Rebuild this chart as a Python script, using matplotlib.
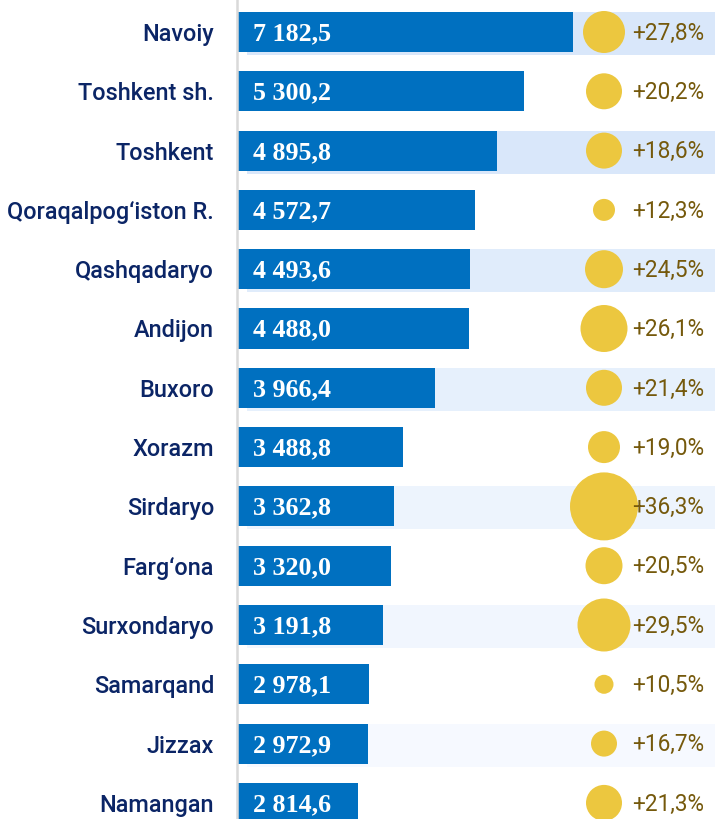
import matplotlib
matplotlib.use("Agg")
import matplotlib.pyplot as plt
import numpy as np

regions = ["Navoiy", "Toshkent sh.", "Toshkent", "Qoraqalpog‘iston R.", "Qashqadaryo",
           "Andijon", "Buxoro", "Xorazm", "Sirdaryo", "Farg‘ona", "Surxondaryo",
           "Samarqand", "Jizzax", "Namangan"]
values = [7182.5, 5300.2, 4895.8, 4572.7, 4493.6, 4488.0, 3966.4, 3488.8, 3362.8,
          3320.0, 3191.8, 2978.1, 2972.9, 2814.6]
growth = [27.8, 20.2, 18.6, 12.3, 24.5, 26.1, 21.4, 19.0, 36.3, 20.5, 29.5, 10.5, 16.7, 21.3]
# bubble diameters (pixels)
bubble_diam = [42, 36, 36, 22, 38, 47, 36, 32, 68, 37, 53, 19, 26, 36]

band_colors = {0: "#d9e7fa", 2: "#d9e7fa", 4: "#e0ecfb", 6: "#e6f0fc",
               8: "#edf4fd", 10: "#f1f6fe", 12: "#f6f9ff"}

BAR = "#0070c0"
GOLD = "#ecc73f"
OLIVE = "#75590c"
NAVY = "#0b2566"

def fmt(v):
    s = f"{v:,.1f}".replace(",", " ").replace(".", ",")
    return s

fig = plt.figure(figsize=(7.15, 8.19), dpi=100)
ax = fig.add_axes([237 / 715, 0, 478 / 715, 1])

scale = 0.0667  # px per unit
zero_px = 170
def px2d(px):
    return (px - zero_px) / scale

xmin, xmax = px2d(237), px2d(715)
cap = px2d(573)
y = np.arange(len(regions))

for i, c in band_colors.items():
    ax.barh(y[i] - 0.3375, xmax - px2d(247) + 100, left=px2d(247), height=0.725,
            align="edge", color=c, zorder=1)

ax.barh(y, np.minimum(values, cap), height=0.675, color=BAR, zorder=2)

for i, v in enumerate(values):
    ax.text(px2d(253), y[i] + 0.03, fmt(v), color="white", fontsize=18.7,
            fontweight="bold", family="Liberation Serif", va="center", ha="left", zorder=3)

s = (np.array(bubble_diam) * 0.72) ** 2
ax.scatter(np.full(len(y), px2d(604)), y, s=s, color=GOLD, zorder=3, linewidths=0)

for i, g in enumerate(growth):
    ax.text(px2d(632), y[i] + 0.02, f"+{g:.1f}%".replace(".", ","), color=OLIVE, fontsize=16.3,
            family=["Roboto", "DejaVu Sans"], va="center", ha="left", zorder=4)

ax.set_xlim(xmin, xmax)
ax.set_ylim((819 - 32) / 59.3, -32 / 59.3)
ax.set_yticks(y, labels=regions)
for lab in ax.get_yticklabels():
    lab.set_fontfamily(["Roboto", "DejaVu Sans"])
    lab.set_fontweight("medium")
    lab.set_fontsize(16.9)
    lab.set_color(NAVY)
ax.tick_params(axis="y", length=0, pad=16.5)
ax.set_xticks([])
for sp in ["top", "right", "bottom"]:
    ax.spines[sp].set_visible(False)
ax.spines["left"].set_color("#d9d9d9")
ax.spines["left"].set_linewidth(1.8)
ax.spines["left"].set_zorder(5)

fig.savefig("out.png", dpi=100)
